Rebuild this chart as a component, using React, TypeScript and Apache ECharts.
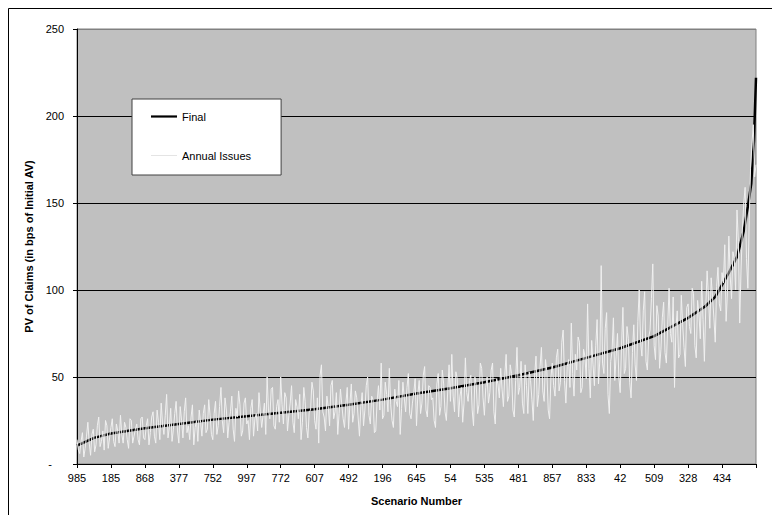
import React, { useEffect, useRef } from "react";
import * as echarts from "echarts";

// Scenario numbers shown on the x axis (one every 50 ranked scenarios)
const scenarioLabels = [
  "985", "185", "868", "377", "752", "997", "772", "607", "492", "196",
  "645", "54", "535", "481", "857", "833", "42", "509", "328", "434",
];

const yTicks = [0, 50, 100, 150, 200, 250];

// "Final" curve: rank of scenario and PV of claims (bps)
const finalRanks = [
  0, 25, 50, 100, 150, 200, 250, 300, 350, 400, 450, 500, 550, 600, 650,
  700, 750, 800, 850, 900, 925, 940, 950, 960, 972, 982, 988, 993, 997, 1000,
];
const finalValues = [
  10.5, 15, 17.5, 20.5, 23, 25.5, 27.5, 29.5, 31.5, 34, 37, 40.5, 43.5, 47, 51,
  55.5, 61, 66.5, 73.5, 84, 90.5, 96, 103, 110, 119, 134, 148, 161, 186, 222,
];

// "Annual Issues": one value every 2 ranks (rank 0 .. 1000)
const annualStep = 2;
const annualValues = [
  // 0-98
  14, 8, 6, 13, 18, 4, 9, 16, 24, 12, 5, 17, 20, 7, 11, 22, 27, 10, 13, 19,
  8, 25, 22, 9, 15, 21, 26, 13, 10, 23, 19, 12, 28, 17, 12, 24, 21, 14, 9, 26,
  25, 12, 16, 20, 23, 14, 11, 26, 27, 15,
  // 100-198
  14, 22, 26, 11, 18, 27, 30, 16, 12, 31, 24, 14, 35, 23, 17, 28, 40, 15, 21, 32,
  13, 20, 29, 36, 19, 12, 33, 25, 15, 30, 38, 18, 22, 14, 27, 34, 11, 21, 25, 13,
  31, 24, 16, 29, 34, 18, 20, 37, 28, 17,
  // 200-298
  14, 29, 36, 17, 22, 33, 44, 25, 18, 38, 31, 15, 24, 30, 39, 20, 13, 32, 27, 42,
  34, 16, 19, 35, 38, 23, 25, 14, 32, 37, 16, 26, 29, 19, 41, 30, 21, 28, 35, 17,
  50, 31, 26, 43, 44, 22, 20, 33, 37, 24,
  // 300-398
  50, 34, 23, 41, 38, 19, 28, 35, 45, 24, 18, 37, 33, 26, 40, 14, 24, 44, 36, 21,
  15, 30, 31, 47, 42, 25, 20, 38, 12, 51, 57, 30, 27, 19, 39, 33, 22, 45, 48, 26,
  30, 41, 17, 29, 43, 34, 26, 21, 35, 44,
  // 400-498
  20, 35, 46, 24, 29, 42, 38, 27, 16, 33, 41, 22, 31, 45, 50, 28, 23, 39, 37, 18,
  19, 36, 45, 31, 58, 26, 28, 47, 40, 30, 55, 34, 25, 21, 43, 36, 33, 48, 17, 32,
  47, 38, 30, 44, 52, 29, 26, 35, 41, 49,
  // 500-598
  22, 40, 48, 29, 35, 51, 56, 31, 27, 45, 44, 37, 38, 25, 21, 46, 52, 28, 33, 54,
  46, 30, 25, 42, 57, 36, 63, 39, 30, 53, 49, 27, 39, 44, 24, 35, 61, 41, 36, 48,
  51, 31, 22, 50, 45, 29, 34, 58, 55, 38,
  // 600-698
  28, 44, 50, 35, 41, 54, 58, 30, 23, 49, 46, 38, 55, 43, 33, 51, 63, 36, 39, 57,
  52, 31, 27, 48, 67, 40, 44, 59, 35, 29, 57, 45, 29, 53, 48, 37, 25, 51, 62, 33,
  40, 56, 67, 42, 36, 60, 53, 31, 26, 50,
  // 700-798
  58, 45, 39, 61, 66, 42, 47, 70, 77, 48, 35, 56, 60, 44, 81, 52, 39, 63, 54, 73,
  70, 41, 44, 66, 62, 49, 92, 55, 38, 71, 57, 45, 68, 83, 46, 60, 114, 58, 52, 78,
  87, 40, 29, 59, 65, 84, 48, 62, 75, 50,
  // 800-898
  41, 68, 90, 52, 55, 79, 72, 47, 38, 64, 80, 57, 48, 82, 100, 70, 62, 88, 99, 59,
  54, 73, 77, 95, 115, 68, 60, 91, 85, 55, 66, 84, 93, 64, 58, 80, 101, 75, 70, 96,
  44, 78, 88, 61, 63, 97, 80, 67, 56, 90,
  // 900-998
  92, 79, 75, 101, 98, 68, 61, 94, 86, 72, 105, 83, 59, 90, 111, 96, 78, 107, 96, 84,
  70, 102, 113, 92, 88, 110, 104, 126, 82, 99, 131, 108, 95, 122, 118, 100, 146, 128, 81, 112,
  135, 150, 159, 118, 101, 140, 170, 184, 195, 165,
  // 1000
  172,
];

const FONT = "'Liberation Sans', Arial, sans-serif";

export default function App() {
  const ref = useRef<HTMLDivElement>(null);

  useEffect(() => {
    if (!ref.current) return;
    const chart = echarts.init(ref.current, undefined, { renderer: "svg" });

    const finalData = finalRanks.map((r, i) => [r, finalValues[i]]);
    const annualData = annualValues.map((v, i) => [i * annualStep, v]);

    chart.setOption({
      animation: false,
      backgroundColor: "#ffffff",
      textStyle: { fontFamily: FONT },
      graphic: [
        {
          type: "rect",
          shape: { x: 8.5, y: 8.5, width: 800, height: 600 },
          style: { fill: "none", stroke: "#000000", lineWidth: 1 },
          silent: true,
          z: 100,
        },
      ],
      grid: {
        left: 77,
        right: 16,
        top: 29,
        bottom: 51,
        show: true,
        backgroundColor: "#C0C0C0",
        borderColor: "#808080",
        borderWidth: 1,
      },
      legend: {
        orient: "vertical",
        left: 132,
        top: 99,
        itemWidth: 26,
        itemHeight: 14,
        itemGap: 28,
        padding: [12, 30, 14, 19],
        backgroundColor: "#ffffff",
        borderColor: "#404040",
        borderWidth: 1,
        textStyle: { fontSize: 11, color: "#000000", fontFamily: FONT },
        data: [
          { name: "Final", icon: "path://M0,0L26,0L26,2.2L0,2.2Z" },
          { name: "Annual Issues", icon: "path://M0,0L26,0L26,1L0,1Z" },
        ],
      },
      xAxis: {
        type: "value",
        min: 0,
        max: 1000,
        interval: 50,
        name: "Scenario Number",
        nameLocation: "middle",
        nameGap: 31,
        nameTextStyle: { fontSize: 11, fontWeight: "bold", color: "#000000", fontFamily: FONT },
        axisLine: { show: true, onZero: false, lineStyle: { color: "#000000", width: 1 } },
        axisTick: { show: true, inside: false, length: 4, lineStyle: { color: "#000000" } },
        axisLabel: {
          margin: 8,
          fontSize: 11,
          color: "#000000",
          fontFamily: FONT,
          formatter: (v: number) => {
            const idx = Math.round(v / 50);
            return scenarioLabels[idx] ?? "";
          },
        },
        splitLine: { show: false },
      },
      yAxis: {
        type: "value",
        min: yTicks[0],
        max: yTicks[yTicks.length - 1],
        interval: 50,
        name: "PV of Claims (in bps of Initial AV)",
        nameLocation: "middle",
        nameGap: 37,
        nameTextStyle: { fontSize: 11, fontWeight: "bold", color: "#000000", fontFamily: FONT },
        axisLine: { show: true, lineStyle: { color: "#000000", width: 1 } },
        axisTick: { show: true, inside: false, length: 4, lineStyle: { color: "#000000" } },
        axisLabel: {
          margin: 13,
          fontSize: 11,
          color: "#000000",
          fontFamily: FONT,
          formatter: (v: number) => (v === 0 ? "{d|-}" : String(v)),
          rich: { d: { fontSize: 11, color: "#000000", padding: [0, 12, 0, 0] } },
        },
        splitLine: {
          show: true,
          lineStyle: {
            color: ["#000000", "#000000", "#000000", "#000000", "#000000", "#808080"],
            width: 1,
          },
        },
      },
      series: [
        {
          name: "Final",
          type: "line",
          data: finalData,
          symbol: "none",
          smooth: false,
          lineStyle: { color: "#000000", width: 2.5 },
          itemStyle: { color: "#000000" },
          z: 2,
        },
        {
          name: "Annual Issues",
          type: "line",
          data: annualData,
          symbol: "none",
          lineStyle: { color: "#F0F0F0", width: 1 },
          itemStyle: { color: "#E4E4E4" },
          z: 3,
        },
      ],
    });

    return () => chart.dispose();
  }, []);

  return (
    <div
      ref={ref}
      style={{ position: "absolute", left: 0, top: 0, width: 772, height: 515 }}
    />
  );
}
